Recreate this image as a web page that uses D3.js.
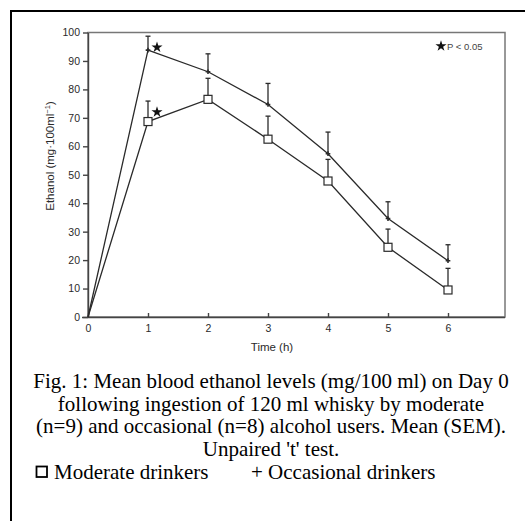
<!doctype html>
<html>
<head>
<meta charset="utf-8">
<script src="https://d3js.org/d3.v7.min.js"></script>
<style>
  body { margin: 0; background: #fff; }
  svg { display: block; }
</style>
</head>
<body>
<svg width="525" height="521"></svg>
<script>
// values
var hours = [0, 1, 2, 3, 4, 5, 6];
var moderate = [0, 68.7, 76.5, 62.5, 47.8, 24.5, 9.5];
var moderateSem = [0, 7.2, 7.4, 8.1, 7.6, 6.4, 7.6];
var occasional = [0, 93.8, 86.2, 74.7, 57.4, 34.6, 19.8];
var occasionalSem = [0, 4.9, 6.3, 7.4, 7.6, 5.9, 5.6];
var significant = [false, true, false, false, false, false, false];
var yTicks = [0, 10, 20, 30, 40, 50, 60, 70, 80, 90, 100];
var xTicks = [0, 1, 2, 3, 4, 5, 6];
var caption = [
  "Fig. 1: Mean blood ethanol levels (mg/100 ml) on Day 0",
  "following ingestion of 120 ml whisky by moderate",
  "(n=9) and occasional (n=8) alcohol users. Mean (SEM).",
  "Unpaired 't' test."
];

var svg = d3.select("svg");
var ink = "#2a2a2a";
var sans = "Liberation Sans, Arial, sans-serif";

// outer frame (runs off right and bottom edge)
svg.append("path")
    .attr("d", "M11,530 L11,11 L530,11")
    .attr("fill", "none")
    .attr("stroke", "#000")
    .attr("stroke-width", 2);

var x = d3.scaleLinear().domain([0, 6]).range([88, 448]);
var y = d3.scaleLinear().domain([0, 100]).range([317, 32.5]);

// plot box
svg.append("rect")
    .attr("x", x(0))
    .attr("y", y(100))
    .attr("width", x(6.95) - x(0))
    .attr("height", y(0) - y(100))
    .attr("fill", "none")
    .attr("stroke", "#777")
    .attr("stroke-width", 1.5);

var yAxis = svg.append("g")
    .attr("transform", "translate(" + x(0) + ",0)")
    .call(d3.axisLeft(y).tickValues(yTicks).tickSize(5).tickSizeOuter(0).tickPadding(3));
var xAxis = svg.append("g")
    .attr("transform", "translate(0," + y(0) + ")")
    .call(d3.axisBottom(x).tickValues(xTicks).tickFormat(d3.format("d"))
            .tickSizeInner(-4).tickSizeOuter(0).tickPadding(8));

[yAxis, xAxis].forEach(function(ax) {
  ax.selectAll("path, line").attr("stroke", "#444").attr("stroke-width", 1.4);
  ax.selectAll("text")
    .attr("fill", ink)
    .attr("font-family", sans)
    .attr("font-size", 10.5);
});
xAxis.select(".domain").attr("d", "M82,0.5H" + x(6.95));

svg.append("text")
    .attr("x", 272)
    .attr("y", 351)
    .attr("text-anchor", "middle")
    .attr("font-family", sans)
    .attr("font-size", 11.5)
    .attr("fill", ink)
    .text("Time (h)");

var ylab = svg.append("text")
    .attr("transform", "translate(54,156) rotate(-90)")
    .attr("text-anchor", "middle")
    .attr("font-family", sans)
    .attr("font-size", 11.5)
    .attr("fill", ink);
ylab.append("tspan").text("Ethanol (mg·100ml");
ylab.append("tspan").attr("font-size", 7.5).attr("dy", -4).text("−1");
ylab.append("tspan").attr("dy", 4).text(")");

var line = d3.line()
    .x(function(d, i) { return x(hours[i]); })
    .y(function(d) { return y(d); });

function drawSeries(values, sem) {
  svg.append("path")
      .datum(values)
      .attr("d", line)
      .attr("fill", "none")
      .attr("stroke", ink)
      .attr("stroke-width", 1.3);

  var err = svg.append("g").selectAll("g")
      .data(values.map(function(v, i) { return {t: hours[i], v: v, s: sem[i]}; })
                  .filter(function(d) { return d.s > 0; }))
      .join("g");
  err.append("line")
      .attr("x1", function(d) { return x(d.t); })
      .attr("x2", function(d) { return x(d.t); })
      .attr("y1", function(d) { return y(d.v); })
      .attr("y2", function(d) { return y(d.v + d.s); })
      .attr("stroke", ink)
      .attr("stroke-width", 1.3);
  err.append("line")
      .attr("x1", function(d) { return x(d.t) - 2.5; })
      .attr("x2", function(d) { return x(d.t) + 2.5; })
      .attr("y1", function(d) { return y(d.v + d.s); })
      .attr("y2", function(d) { return y(d.v + d.s); })
      .attr("stroke", ink)
      .attr("stroke-width", 1.3);
}

drawSeries(occasional, occasionalSem);
drawSeries(moderate, moderateSem);

// occasional: small plus marks
svg.append("g").selectAll("path")
    .data(occasional.slice(1))
    .join("path")
    .attr("d", d3.symbol(d3.symbolCross).size(12))
    .attr("transform", function(d, i) { return "translate(" + x(hours[i + 1]) + "," + y(d) + ")"; })
    .attr("fill", ink);

// moderate: open squares
svg.append("g").selectAll("rect")
    .data(moderate.slice(1))
    .join("rect")
    .attr("x", function(d, i) { return x(hours[i + 1]) - 4; })
    .attr("y", function(d) { return y(d) - 4; })
    .attr("width", 8)
    .attr("height", 8)
    .attr("fill", "#fff")
    .attr("stroke", ink)
    .attr("stroke-width", 1.2);

// significance stars
var star = d3.symbol(d3.symbolStar).size(38);
[occasional, moderate].forEach(function(values, k) {
  var sem = k === 0 ? occasionalSem : moderateSem;
  values.forEach(function(v, i) {
    if (!significant[i]) return;
    svg.append("path")
        .attr("d", star)
        .attr("transform", "translate(" + (x(hours[i]) + 9) + "," + (y(v + sem[i]) + 11) + ")")
        .attr("fill", "#111");
  });
});

svg.append("path")
    .attr("d", star)
    .attr("transform", "translate(441,46)")
    .attr("fill", "#111");
svg.append("text")
    .attr("x", 447)
    .attr("y", 50)
    .attr("font-family", sans)
    .attr("font-size", 9.5)
    .attr("fill", "#444")
    .text("P < 0.05");

// caption
var cap = svg.append("g")
    .attr("font-family", "Liberation Serif, Times New Roman, serif")
    .attr("font-size", 21)
    .attr("fill", "#000");
cap.selectAll("text")
    .data(caption)
    .join("text")
    .attr("x", 271)
    .attr("y", function(d, i) { return 388 + i * 22.7; })
    .attr("text-anchor", "middle")
    .text(function(d) { return d; });

svg.append("rect")
    .attr("x", 36.5)
    .attr("y", 466.5)
    .attr("width", 10.5)
    .attr("height", 10.5)
    .attr("fill", "none")
    .attr("stroke", "#000")
    .attr("stroke-width", 1.8);
cap.append("text").attr("x", 54).attr("y", 479).text("Moderate drinkers");
cap.append("text").attr("x", 251).attr("y", 479).text("+ Occasional drinkers");
</script>
</body>
</html>
